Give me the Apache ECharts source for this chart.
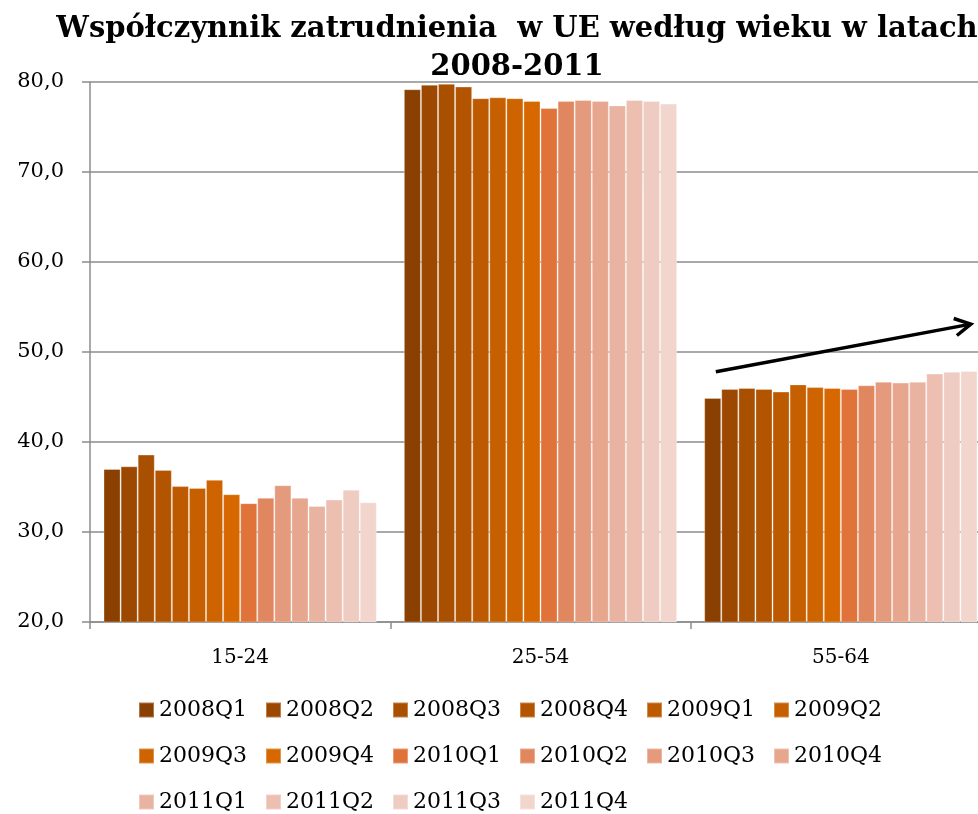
<!DOCTYPE html>
<html>
<head>
<meta charset="utf-8">
<script src="https://cdn.jsdelivr.net/npm/echarts@6/dist/echarts.min.js"></script>
<style>
    html, body { margin: 0; padding: 0; background: #fff; }
    #Root { width: 978px; height: 814px; }
</style>
</head>
<body>
<div id="Root"></div>
<script>
// kategorie wiekowe
const categories = ['15-24', '25-54', '55-64']
// kwartały (serie)
const quarters = ['2008Q1', '2008Q2', '2008Q3', '2008Q4', '2009Q1', '2009Q2', '2009Q3', '2009Q4',
    '2010Q1', '2010Q2', '2010Q3', '2010Q4', '2011Q1', '2011Q2', '2011Q3', '2011Q4']
const colors = ['#8a4000', '#9c4800', '#a94f00', '#b35400', '#bd5a00', '#c65f00', '#ce6400', '#d76800',
    '#df7339', '#e08760', '#e49a7c', '#e7a68e', '#e8b3a1', '#ecbfb1', '#efccc1', '#f2d6cd']

// wartości dla każdej grupy wieku, po kolei kwartałami
const age1524 = [37.0, 37.3, 38.6, 36.9, 35.1, 34.9, 35.8, 34.2, 33.2, 33.8, 35.2, 33.8, 32.9, 33.6, 34.7, 33.3]
const age2554 = [79.2, 79.7, 79.8, 79.5, 78.2, 78.3, 78.2, 77.9, 77.1, 77.9, 78.0, 77.9, 77.4, 78.0, 77.9, 77.6]
const age5564 = [44.9, 45.9, 46.0, 45.9, 45.6, 46.4, 46.1, 46.0, 45.9, 46.3, 46.7, 46.6, 46.7, 47.6, 47.8, 47.9]

const yTicks = { min: 20, max: 80, interval: 10 }

const FONT = '"DejaVu Serif", serif'

let chart = echarts.init(document.getElementById('Root'))

let series = quarters.map((q, i) => ({
    name: q,
    type: 'bar',
    barGap: 0,
    barCategoryGap: '9%',
    data: [age1524[i], age2554[i], age5564[i]],
    itemStyle: {
        color: colors[i],
        borderColor: 'rgba(255,255,255,0.3)',
        borderWidth: 1
    }
}))

let option = {
    animation: false,
    color: colors,
    title: {
        text: 'Współczynnik zatrudnienia  w UE według wieku w latach\n2008-2011',
        left: 512,
        top: 5,
        textAlign: 'center',
        textStyle: {
            fontFamily: FONT,
            fontWeight: 'bold',
            fontSize: 29,
            lineHeight: 38,
            color: '#000'
        }
    },
    legend: {
        data: quarters,
        left: 138,
        top: 690,
        width: 770,
        itemWidth: 15,
        itemHeight: 15,
        itemGap: 6,
        icon: 'rect',
        textStyle: {
            fontFamily: FONT,
            fontSize: 22,
            lineHeight: 40,
            color: '#000',
            width: 100,
            overflow: 'truncate'
        },
        padding: 0
    },
    grid: {
        left: 90,
        right: -13,
        top: 82,
        bottom: 192,
        containLabel: false,
        outerBoundsMode: 'none'
    },
    xAxis: {
        type: 'category',
        data: categories,
        axisLine: { lineStyle: { color: '#8c8c8c', width: 1.5 } },
        axisTick: { show: true, length: 7, lineStyle: { color: '#8c8c8c', width: 1.5 } },
        axisLabel: {
            fontFamily: FONT,
            fontSize: 20,
            color: '#000',
            margin: 26
        }
    },
    yAxis: {
        type: 'value',
        min: yTicks.min,
        max: yTicks.max,
        interval: yTicks.interval,
        axisLine: { show: true, lineStyle: { color: '#8c8c8c', width: 1.5 } },
        axisTick: { show: true, length: 8, lineStyle: { color: '#8c8c8c', width: 1.5 } },
        splitLine: { lineStyle: { color: '#8c8c8c', width: 1.5 } },
        axisLabel: {
            fontFamily: FONT,
            fontSize: 21,
            color: '#000',
            margin: 26,
            formatter: v => v.toFixed(1).replace('.', ',')
        }
    },
    series: series
}

chart.setOption(option)

//#region strzałka trendu (adnotacja) nad grupą 55-64
let center = chart.convertToPixel({ gridIndex: 0 }, [2, 47.8])
let tip = chart.convertToPixel({ gridIndex: 0 }, [2, 53.1])
let x0 = center[0] - 125, y0 = center[1]
let x1 = center[0] + 130, y1 = tip[1]
let ang = Math.atan2(y1 - y0, x1 - x0)
let head = 18, spread = 0.5
chart.setOption({
    graphic: [
        {
            type: 'line',
            shape: { x1: x0, y1: y0, x2: x1, y2: y1 },
            style: { stroke: '#000', lineWidth: 3.5 },
            z: 100
        },
        {
            type: 'polyline',
            shape: {
                points: [
                    [x1 - head * Math.cos(ang - spread), y1 - head * Math.sin(ang - spread)],
                    [x1, y1],
                    [x1 - head * Math.cos(ang + spread), y1 - head * Math.sin(ang + spread)]
                ]
            },
            style: { stroke: '#000', lineWidth: 3.5, fill: null, lineJoin: 'miter' },
            z: 100
        }
    ]
})
//#endregion
</script>
</body>
</html>
